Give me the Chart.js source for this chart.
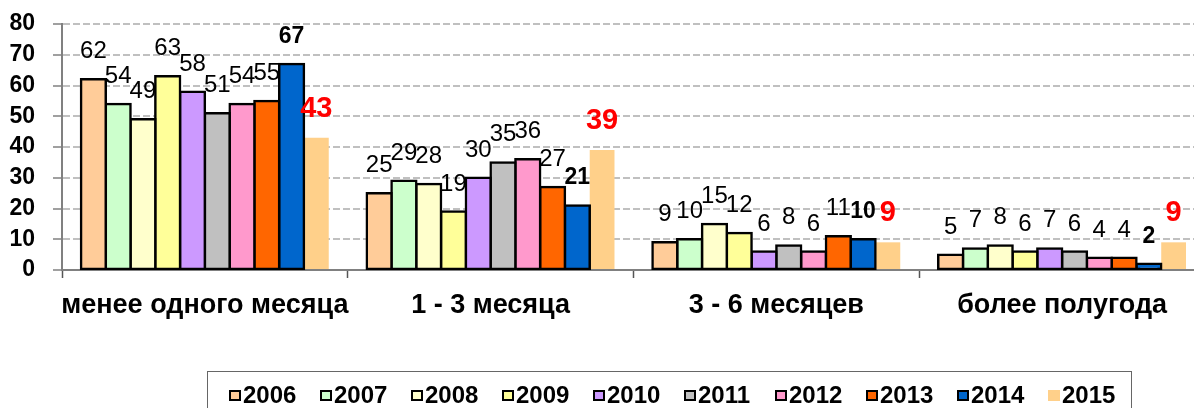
<!DOCTYPE html>
<html>
<head>
<meta charset="utf-8">
<script src="https://cdn.jsdelivr.net/npm/chart.js@4.4.1/dist/chart.umd.min.js"></script>
<style>
  html, body { margin: 0; padding: 0; background: #fff; overflow: hidden; }
  #wrap { position: relative; width: 1194px; height: 408px; overflow: hidden; }
  #myChart { position: absolute; left: 0; top: 0; }
  #legend {
    position: absolute; left: 207px; top: 371px; width: 925px; height: 60px;
    border: 1.5px solid #666; box-sizing: border-box;
    font: bold 24px "Liberation Sans", Arial, sans-serif; color: #000;
  }
  .item { position: absolute; top: 10px; height: 26px; display: flex; align-items: center; }
  .box { width: 12px; height: 11px; box-sizing: border-box; margin-right: 2px; }
</style>
</head>
<body>
<div id="wrap">
  <canvas id="myChart"></canvas>
  <div id="legend"></div>
</div>
<script>
// categories and series
const categories = ["менее одного месяца", "1 - 3 месяца", "3 - 6 месяцев", "более полугода"];
const years = ["2006", "2007", "2008", "2009", "2010", "2011", "2012", "2013", "2014", "2015"];
const v2006 = [62, 25, 9, 5];
const v2007 = [54, 29, 10, 7];
const v2008 = [49, 28, 15, 8];
const v2009 = [63, 19, 12, 6];
const v2010 = [58, 30, 6, 7];
const v2011 = [51, 35, 8, 6];
const v2012 = [54, 36, 6, 4];
const v2013 = [55, 27, 11, 4];
const v2014 = [67, 21, 10, 2];
const v2015 = [43, 39, 9, 9];
const yTicks = [0, 10, 20, 30, 40, 50, 60, 70, 80];

const series = [v2006, v2007, v2008, v2009, v2010, v2011, v2012, v2013, v2014, v2015];
const colors = ['#FFCC99', '#CCFFCC', '#FFFFCC', '#FFFF99', '#CC99FF', '#C0C0C0', '#FF99CC', '#FF6600', '#0066CC', '#FFD08A'];

const FONT = '"Liberation Sans", Arial, sans-serif';

const datasets = series.map((vals, i) => {
    const last = i === series.length - 1;
    return {
        label: years[i],
        data: vals,
        backgroundColor: colors[i],
        borderColor: '#000',
        borderWidth: last ? 0 : 2.5,
        borderSkipped: false,
        inflateAmount: last ? 'auto' : 1.25,
        barPercentage: 1,
        categoryPercentage: 0.867
    };
});

// value labels above bars
const valueLabels = {
    id: 'valueLabels',
    afterDatasetsDraw(chart) {
        const ctx = chart.ctx;
        ctx.save();
        ctx.textAlign = 'center';
        ctx.textBaseline = 'alphabetic';
        chart.data.datasets.forEach((ds, i) => {
            const meta = chart.getDatasetMeta(i);
            if (i === 9) {
                ctx.font = 'bold 29px ' + FONT;
                ctx.fillStyle = '#FF0000';
            } else if (i === 8) {
                ctx.font = 'bold 23px ' + FONT;
                ctx.fillStyle = '#000';
            } else {
                ctx.font = '24px ' + FONT;
                ctx.fillStyle = '#000';
            }
            meta.data.forEach((bar, j) => {
                ctx.fillText(ds.data[j], bar.x, bar.y - 21);
            });
        });
        ctx.restore();
    }
};

function createChart() {
    const canvas = document.getElementById("myChart");
    canvas.width = 1220;
    canvas.height = 408;
    canvas.style.width = '1220px';
    canvas.style.height = '408px';

    const chart = new Chart(canvas, {
        type: 'bar',
        data: {
            labels: categories,
            datasets: datasets
        },
        options: {
            responsive: false,
            animation: false,
            devicePixelRatio: 1,
            layout: { padding: { top: 24, right: 15, bottom: 78, left: 0 } },
            plugins: {
                legend: { display: false },
                tooltip: { enabled: false }
            },
            scales: {
                x: {
                    afterFit: (scale) => { scale.height = 60; },
                    grid: {
                        drawOnChartArea: false,
                        drawTicks: true,
                        tickLength: 8,
                        tickColor: '#555',
                        tickWidth: 1.5,
                        offset: true
                    },
                    border: { color: '#808080', width: 2 },
                    ticks: {
                        color: '#000',
                        padding: 11,
                        maxRotation: 0,
                        autoSkip: false,
                        font: { family: FONT, size: 27, weight: 'bold' }
                    }
                },
                y: {
                    min: 0,
                    max: 80,
                    afterFit: (scale) => {
                        scale.width = 62;
                        scale.paddingTop = 12;
                        scale.paddingBottom = 12;
                    },
                    afterBuildTicks: (scale) => { scale.ticks = yTicks.map(v => ({ value: v })); },
                    grid: {
                        color: (c) => c.tick && c.tick.value === 0 ? 'rgba(0,0,0,0)' : '#C0C0C0',
                        lineWidth: 2,
                        tickLength: 9,
                        tickColor: '#808080',
                        tickWidth: 1.5,
                        tickBorderDash: []
                    },
                    border: { color: '#808080', width: 2, dash: [7, 3] },
                    ticks: {
                        color: '#000',
                        padding: 18,
                        autoSkip: false,
                        font: { family: FONT, size: 23, weight: 'bold' }
                    }
                }
            }
        },
        plugins: [valueLabels]
    });

    // HTML legend built from the datasets
    const legend = document.getElementById("legend");
    chart.data.datasets.forEach((ds, i) => {
        const item = document.createElement("div");
        item.className = "item";
        item.style.left = (21 + i * 91) + "px";
        const box = document.createElement("div");
        box.className = "box";
        box.style.background = ds.backgroundColor;
        if (ds.borderWidth) box.style.border = "2px solid #000";
        const txt = document.createElement("span");
        txt.textContent = ds.label;
        item.appendChild(box);
        item.appendChild(txt);
        legend.appendChild(item);
    });
}

createChart();
</script>
</body>
</html>
